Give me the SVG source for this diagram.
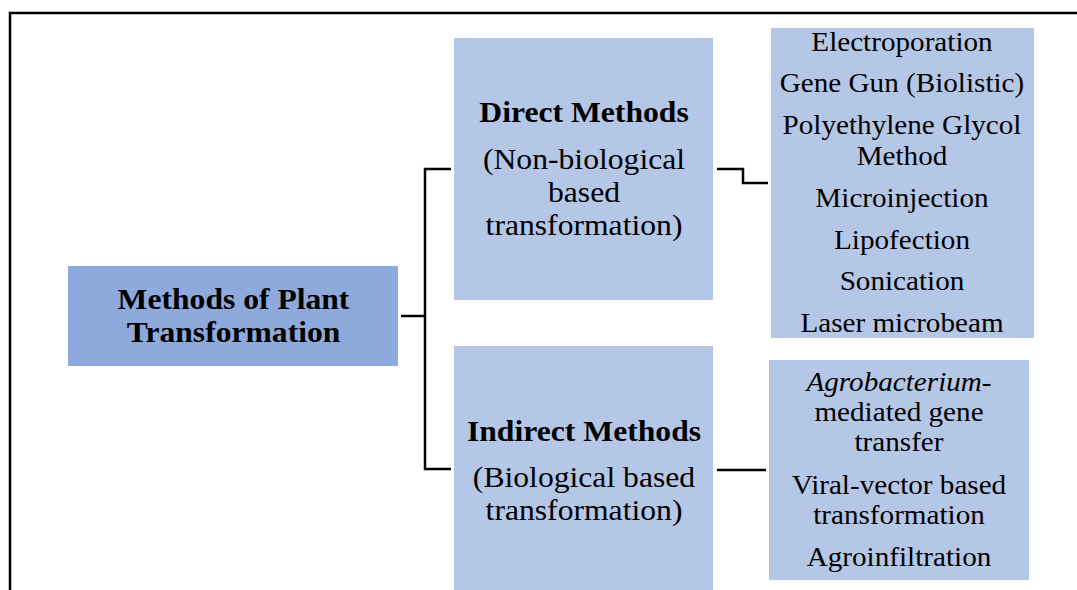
<svg xmlns="http://www.w3.org/2000/svg" width="1077" height="590" viewBox="0 0 1077 590">
<style>
.t{font-family:'Liberation Serif','Times New Roman',Times,serif;fill:#000;text-anchor:middle}
.b{font-weight:bold}
.lbl{font-size:30px}
.lst{font-size:27px}
.dark{fill:#8EA9DB}
.light{fill:#B4C7E7}
.con{fill:none;stroke:#000;stroke-width:2.5}
</style>
<rect width="1077" height="590" fill="#fff"/>
<path d="M10,590 V13 H1077" fill="none" stroke="#000" stroke-width="2.5"/>
<g id="connectors">
<path class="con" d="M401,316 H425"/>
<path class="con" d="M451,169 H425 V469 H451"/>
<path class="con" d="M717,169 H743 V183 H768"/>
<path class="con" d="M717,470 H766"/>
</g>
<g id="root">
<rect class="dark" x="68" y="266" width="330" height="100"/>
<g transform="translate(233.5 0) scale(1.09 1)">
<text class="t b" font-size="29" x="0" y="309.5">Methods of Plant</text>
<text class="t b" font-size="29" x="0" y="342">Transformation</text>
</g>
</g>
<g id="direct">
<rect class="light" x="454" y="38" width="259" height="262"/>
<g transform="translate(584 0) scale(1.055 1)">
<text class="t b lbl" x="0" y="122.5">Direct Methods</text>
<text class="t lbl" x="0" y="169">(Non-biological</text>
<text class="t lbl" x="0" y="202">based</text>
<text class="t lbl" x="0" y="235">transformation)</text>
</g>
</g>
<g id="indirect">
<rect class="light" x="454" y="346" width="259" height="244"/>
<g transform="translate(584 0) scale(1.055 1)">
<text class="t b lbl" x="0" y="441">Indirect Methods</text>
<text class="t lbl" x="0" y="487">(Biological based</text>
<text class="t lbl" x="0" y="520">transformation)</text>
</g>
</g>
<g id="direct-list">
<rect class="light" x="771" y="28" width="263" height="310"/>
<g transform="translate(902 0) scale(1.08 1)">
<text class="t lst" x="0" y="51">Electroporation</text>
<text class="t lst" x="0" y="92.5">Gene Gun (Biolistic)</text>
<text class="t lst" x="0" y="134.5">Polyethylene Glycol</text>
<text class="t lst" x="0" y="165">Method</text>
<text class="t lst" x="0" y="207">Microinjection</text>
<text class="t lst" x="0" y="249">Lipofection</text>
<text class="t lst" x="0" y="290.5">Sonication</text>
<text class="t lst" x="0" y="332.5">Laser microbeam</text>
</g>
</g>
<g id="indirect-list">
<rect class="light" x="769" y="360" width="260" height="220"/>
<g transform="translate(899 0) scale(1.08 1)">
<text class="t lst" x="0" y="391"><tspan font-style="italic">Agrobacterium</tspan>-</text>
<text class="t lst" x="0" y="421">mediated gene</text>
<text class="t lst" x="0" y="451">transfer</text>
<text class="t lst" x="0" y="494">Viral-vector based</text>
<text class="t lst" x="0" y="524">transformation</text>
<text class="t lst" x="0" y="566">Agroinfiltration</text>
</g>
</g>
</svg>
